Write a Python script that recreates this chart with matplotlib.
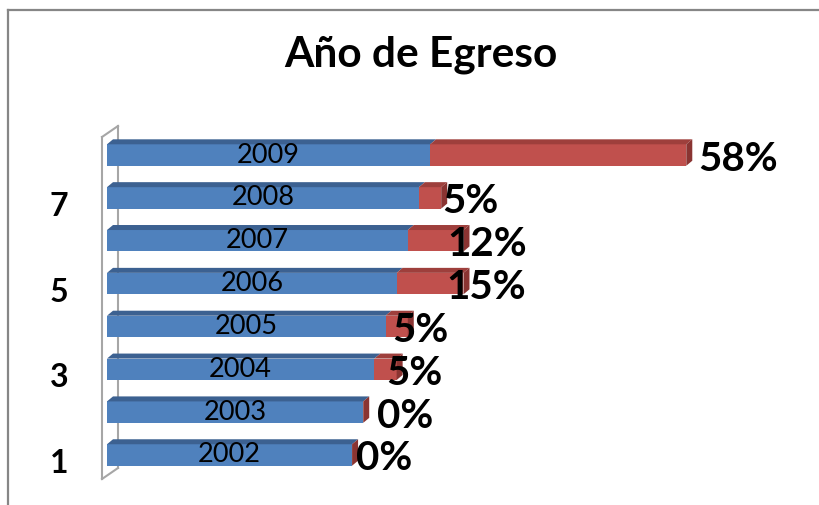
import matplotlib.pyplot as plt
from matplotlib.patches import Polygon
from matplotlib.lines import Line2D
from matplotlib.transforms import ScaledTranslation
import numpy as np

# data
categories = [1, 2, 3, 4, 5, 6, 7, 8]
years = [2002, 2003, 2004, 2005, 2006, 2007, 2008, 2009]
counts = [0, 0, 2, 2, 6, 5, 2, 23]
pct_labels = ["0%", "0%", "5%", "5%", "15%", "12%", "5%", "58%"]
tick_cats = [1, 3, 5, 7]

# layout / styling
X_MIN, X_MAX = 1980, 2035
BAR_H = 0.5
label_nudge_px = [4, 14, -10, -16, -17, -16, 1, 12]

BLUE, BLUE_TOP = "#4F81BD", "#3C6191"
RED, RED_TOP, RED_SIDE = "#C0504D", "#9E3F3C", "#8A3432"

plt.rcParams["font.family"] = ["Lato", "DejaVu Sans"]

fig = plt.figure(figsize=(8.19, 5.05), dpi=100)
W, H = 819, 505
ax_left_px, ax_right_px = 107, 719.7
ax_top_px, ax_bot_px = 133.6, 476.4
ax = fig.add_axes([ax_left_px / W, 1 - ax_bot_px / H,
                   (ax_right_px - ax_left_px) / W, (ax_bot_px - ax_top_px) / H])
ax.set_xlim(X_MIN, X_MAX)
ax.set_ylim(0.5, 8.5)

px_x = (ax_right_px - ax_left_px) / (X_MAX - X_MIN)
px_y = (ax_bot_px - ax_top_px) / 8.0
dx, dy = 6 / px_x, 5 / px_y

y = np.array(categories, dtype=float)
blue_w = np.array(years) - X_MIN
red_w = np.array(counts, dtype=float)

ax.barh(y, blue_w, left=X_MIN, height=BAR_H, color=BLUE, zorder=3)
ax.barh(y, red_w, left=X_MIN + blue_w, height=BAR_H, color=RED, zorder=3)


def top_face(x0, x1, yc, color):
    yt = yc + BAR_H / 2
    ax.add_patch(Polygon([(x0, yt), (x1, yt), (x1 + dx, yt + dy), (x0 + dx, yt + dy)],
                         closed=True, facecolor=color, edgecolor="none", zorder=3,
                         clip_on=False))


for yc, bw, rw in zip(y, blue_w, red_w):
    x_b = X_MIN + bw
    x_r = x_b + rw
    top_face(X_MIN, x_b, yc, BLUE_TOP)
    if rw > 0:
        top_face(x_b, x_r, yc, RED_TOP)
    yb, yt = yc - BAR_H / 2, yc + BAR_H / 2
    ax.add_patch(Polygon([(x_r, yb), (x_r, yt), (x_r + dx, yt + dy), (x_r + dx, yb + dy)],
                         closed=True, facecolor=RED_SIDE, edgecolor="none", zorder=3,
                         clip_on=False))

# year labels inside blue bars
for yc, yr, bw in zip(y, years, blue_w):
    ax.text(X_MIN + bw / 2, yc, str(yr), ha="center", va="center",
            fontsize=19.5, color="black", zorder=5)

# percentage labels
for yc, bw, rw, lab, nud in zip(y, blue_w, red_w, pct_labels, label_nudge_px):
    ax.annotate(lab, (X_MIN + bw + rw, yc), xytext=(nud * 0.72, -4 * 0.72),
                textcoords="offset points", ha="left", va="center",
                fontsize=29, fontweight="bold", zorder=6)

# axis wall (3D side wall)
wall_x = X_MIN - 5 / px_x
wall_back = wall_x + 16 / px_x
y_lo = 0.5 - (479 - ax_bot_px) / px_y
y_hi = 8.5 + (ax_top_px - 137) / px_y
wdy = 11 / px_y
wall_kw = dict(color="#A6A6A6", lw=1.5, zorder=2, clip_on=False)
ax.plot([wall_x, wall_x], [y_lo, y_hi], **wall_kw)
ax.plot([wall_back, wall_back], [y_lo + wdy, y_hi + wdy], **wall_kw)
ax.plot([wall_x, wall_back], [y_hi, y_hi + wdy], **wall_kw)
ax.plot([wall_x, wall_back], [y_lo, y_lo + wdy], **wall_kw)

for s in ax.spines.values():
    s.set_visible(False)
ax.set_xticks([])
ax.set_yticks(tick_cats)
ax.set_yticklabels([str(c) for c in tick_cats], fontsize=23, fontweight="bold")
ax.tick_params(axis="y", length=0, pad=28)
for t in ax.get_yticklabels():
    t.set_transform(t.get_transform() + ScaledTranslation(0, -6 / 100, fig.dpi_scale_trans))

fig.text(421 / W, 1 - 66 / H, "Año de Egreso", ha="center", va="baseline",
         fontsize=30.5, fontweight="bold")

# outer chart border
border_kw = dict(color="#868686", lw=1.6)
fig.add_artist(Line2D([8 / W, 8 / W], [0, 1 - 10 / H], **border_kw))
fig.add_artist(Line2D([8 / W, 1], [1 - 10 / H, 1 - 10 / H], **border_kw))

fig.savefig("out.png", dpi=100)
